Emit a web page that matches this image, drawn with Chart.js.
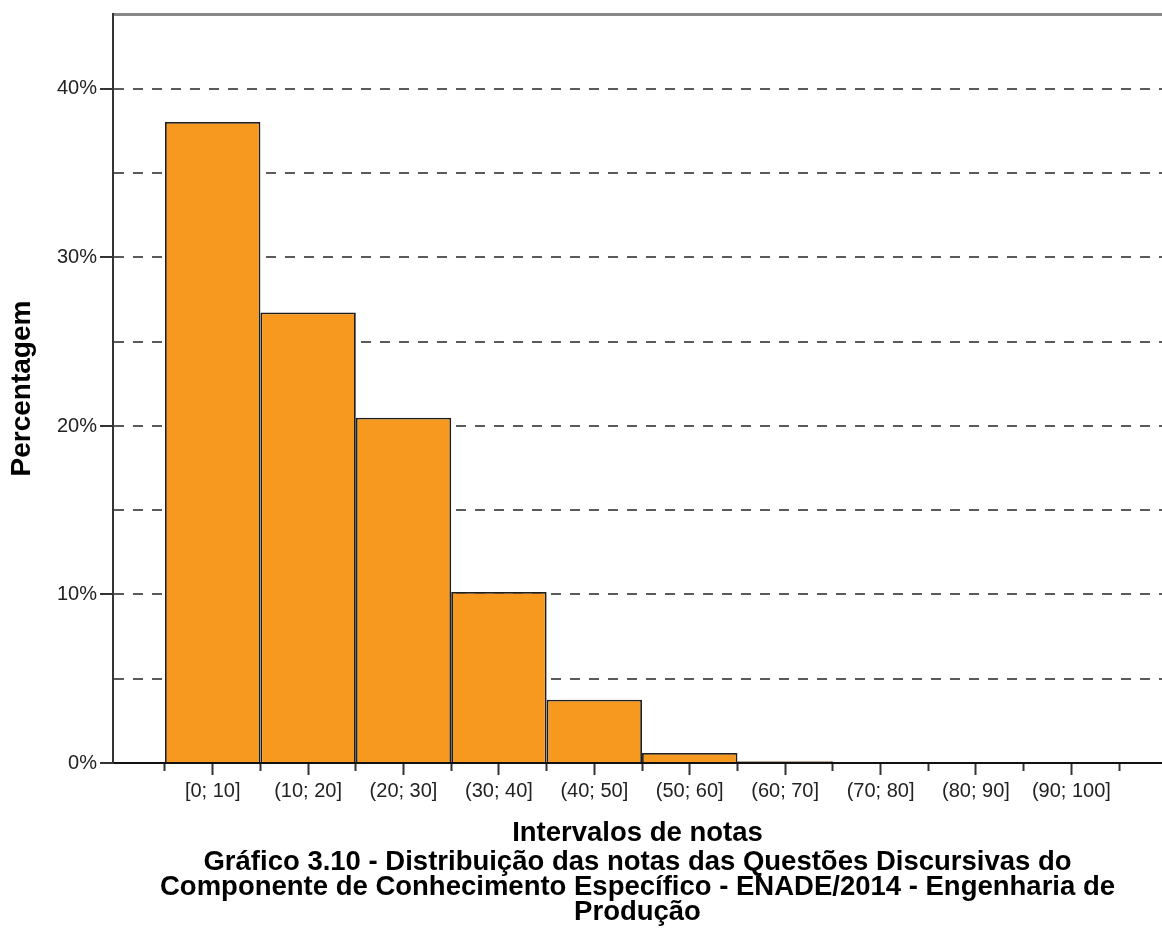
<!DOCTYPE html>
<html>
<head>
<meta charset="utf-8">
<script src="https://cdn.jsdelivr.net/npm/chart.js@4/dist/chart.umd.min.js"></script>
<style>
  body { margin: 0; background: #fff; }
  #grafica { display: block; }
</style>
</head>
<body>
<canvas id="grafica" width="1162" height="933"></canvas>
<script>
// intervalos de notas (centro de cada classe) e rótulos
var centros = [5, 15, 25, 35, 45, 55, 65, 75, 85, 95];
var intervalos = ['[0; 10]', '(10; 20]', '(20; 30]', '(30; 40]', '(40; 50]',
                  '(50; 60]', '(60; 70]', '(70; 80]', '(80; 90]', '(90; 100]'];
var percentagens = [38.04, 26.74, 20.49, 10.15, 3.76, 0.59, 0.1, 0, 0, 0];
var bordas = [0, 10, 20, 30, 40, 50, 60, 70, 80, 90, 100];
var ticksY = [0, 5, 10, 15, 20, 25, 30, 35, 40];

var tituloX = 'Intervalos de notas';
var legenda = ['Gráfico 3.10 - Distribuição das notas das Questões Discursivas do',
               'Componente de Conhecimento Específico - ENADE/2014 - Engenharia de',
               'Produção'];

var fonte = '"Liberation Sans", Arial, sans-serif';

var barras = {
    type: 'bar',
    label: 'Percentagem',
    data: [],
    backgroundColor: '#f7991f',
    borderColor: '#1e1e1e',
    borderWidth: 1.8,
    borderSkipped: 'bottom',
    // os ticks ficam a cada 5 unidades, as classes têm 10
    barPercentage: 2,
    categoryPercentage: 1
};

for (var i = 0; i < centros.length; i++) {
    barras.data.push({x: centros[i], y: percentagens[i]});
}

function rotulo(v) {
    var k = centros.indexOf(v);
    return k >= 0 ? intervalos[k] : '';
}

var config = {
    type: 'bar',
    data: { datasets: [barras] },
    options: {
        responsive: false,
        animation: false,
        layout: { padding: 0 },
        plugins: {
            legend: { display: false },
            tooltip: { enabled: false },
            title: {
                display: true,
                position: 'bottom',
                fullSize: false,
                text: legenda,
                color: '#000',
                font: { family: fonte, size: 27.5, weight: 'bold', lineHeight: '25px' },
                padding: { top: 0, bottom: 8 }
            }
        },
        scales: {
            x: {
                type: 'linear',
                position: 'bottom',
                offset: false,
                min: -5.45,
                max: 104.5,
                afterBuildTicks: function (scale) {
                    var t = [];
                    bordas.forEach(function (b) { t.push({value: b}); });
                    centros.forEach(function (c) { t.push({value: c}); });
                    t.sort(function (a, b) { return a.value - b.value; });
                    scale.ticks = t;
                },
                afterFit: function (scale) { scale.height = 87; },
                border: { display: true, color: '#111', width: 2 },
                grid: {
                    offset: false,
                    drawOnChartArea: false,
                    drawTicks: true,
                    tickLength: 12,
                    tickWidth: 2,
                    tickColor: '#333',
                    tickBorderDash: function (ctx) {
                        return centros.indexOf(ctx.tick && ctx.tick.value) >= 0 ? [] : [7, 100];
                    }
                },
                ticks: {
                    autoSkip: false,
                    maxRotation: 0,
                    padding: 4,
                    color: '#222',
                    font: { family: fonte, size: 20 },
                    callback: function (v) { return rotulo(v); }
                },
                title: {
                    display: true,
                    text: tituloX,
                    color: '#000',
                    font: { family: fonte, size: 27.5, weight: 'bold', lineHeight: '25px' },
                    padding: { top: 0, bottom: 4 }
                }
            },
            topo: {
                type: 'linear',
                position: 'top',
                min: 0,
                max: 1,
                afterFit: function (scale) { scale.height = 14; },
                border: { display: true, color: '#888', width: 3 },
                grid: { display: false },
                ticks: { display: false }
            },
            y: {
                min: 0,
                max: 44.45,
                afterBuildTicks: function (scale) {
                    scale.ticks = ticksY.map(function (v) { return {value: v}; });
                },
                afterFit: function (scale) { scale.width = 113; },
                border: { display: true, color: '#333', width: 2, dash: [10, 9] },
                grid: {
                    lineWidth: 2,
                    color: function (ctx) {
                        return ctx.tick && ctx.tick.value === 0 ? 'rgba(0,0,0,0)' : '#5a5a5a';
                    },
                    tickLength: 13,
                    tickWidth: 2,
                    tickColor: function (ctx) {
                        return ctx.tick && ctx.tick.value % 10 === 0 ? '#333' : 'rgba(0,0,0,0)';
                    }
                },
                ticks: {
                    padding: 3,
                    color: '#222',
                    font: { family: fonte, size: 20, lineHeight: 1 },
                    callback: function (v) { return v % 10 === 0 ? v + '%' : ''; }
                },
                title: {
                    display: true,
                    text: 'Percentagem',
                    color: '#000',
                    font: { family: fonte, size: 28, weight: 'bold', lineHeight: 1 },
                    padding: { top: 8, bottom: 0 }
                }
            }
        }
    }
};

var grafica = new Chart(document.getElementById('grafica'), config);
</script>
</body>
</html>
